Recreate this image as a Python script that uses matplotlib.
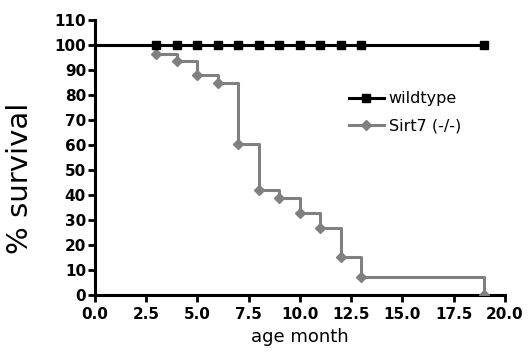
import matplotlib
matplotlib.use("Agg")
import matplotlib.pyplot as plt
from matplotlib.ticker import FormatStrFormatter

plt.rcParams['font.family'] = ['DejaVu Sans']

wt_x = [0, 3, 4, 5, 6, 7, 8, 9, 10, 11, 12, 13, 19]
wt_y = [100] * 13
wt_marker_x = [3, 4, 5, 6, 7, 8, 9, 10, 11, 12, 13, 19]

ko_x = [0, 3, 4, 5, 6, 7, 8, 9, 10, 11, 12, 13, 19]
ko_y = [100, 96.5, 93.5, 88, 85, 60.5, 42, 39, 33, 27, 15, 7, 0]

xticks = [0, 2.5, 5, 7.5, 10, 12.5, 15, 17.5, 20]
yticks = list(range(0, 111, 10))

fig = plt.figure(figsize=(5.28, 3.58), dpi=100)
ax = fig.add_axes([0.18, 0.176, 0.776, 0.768])

gray = '#808080'
ax.step(ko_x, ko_y, where='post', color=gray, lw=2.2, zorder=2)
ax.plot(ko_x[1:], ko_y[1:], ls='none', marker='D', ms=5, color=gray, zorder=3)
ax.plot(wt_x, wt_y, color='black', lw=2.2, zorder=4)
ax.plot(wt_marker_x, [100] * len(wt_marker_x), ls='none', marker='s', ms=6,
        color='black', zorder=5)

# legend handles
ax.plot([], [], color='black', lw=2.2, marker='s', ms=6, label='wildtype')
ax.plot([], [], color=gray, lw=2.2, marker='D', ms=5, label='Sirt7 (-/-)')
h, l = ax.get_legend_handles_labels()
ax.legend(h[-2:], l[-2:], loc='upper left', bbox_to_anchor=(0.60, 0.77),
          frameon=False, fontsize=11.5, handlelength=2.2, handletextpad=0.3,
          labelspacing=0.75, borderpad=0)

ax.set_xlim(0, 20)
ax.set_ylim(0, 110)
ax.set_xticks(xticks)
ax.set_yticks(yticks)
ax.xaxis.set_major_formatter(FormatStrFormatter('%.1f'))
for s in ['top', 'right']:
    ax.spines[s].set_visible(False)
for s in ['left', 'bottom']:
    ax.spines[s].set_linewidth(2.2)
ax.tick_params(width=2, length=5, direction='out', labelsize=11, pad=1.5)
ax.tick_params(axis='x', pad=4)
for t in ax.get_xticklabels() + ax.get_yticklabels():
    t.set_fontweight('bold')
ax.set_ylabel('% survival', fontsize=21)
ax.yaxis.set_label_coords(-0.148, 0.425)
ax.set_xlabel('age month', fontsize=13, labelpad=4)

fig.savefig('out.png', dpi=100)
